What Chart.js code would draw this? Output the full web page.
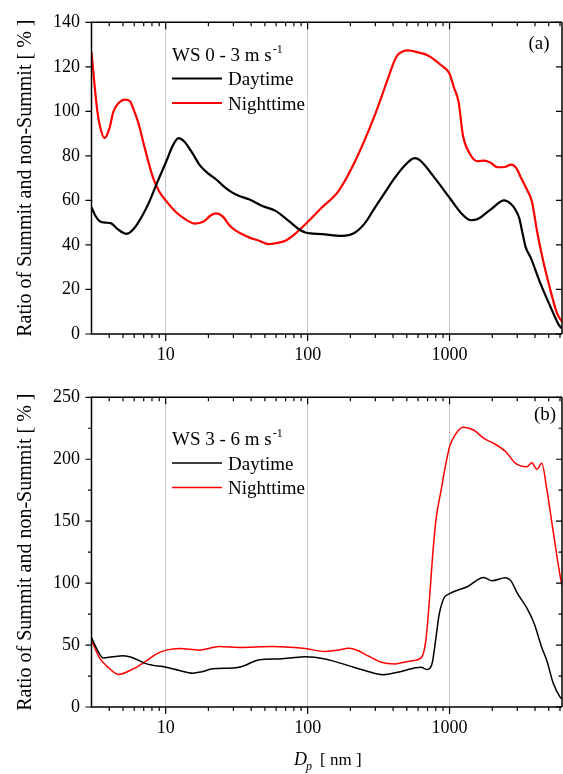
<!DOCTYPE html>
<html><head><meta charset="utf-8">
<script src="https://cdn.jsdelivr.net/npm/chart.js@4.4.0/dist/chart.umd.min.js"></script>
<style>
html,body{margin:0;padding:0;background:#fff;overflow:hidden;width:563px;height:774px;}
#wrapA{position:absolute;left:0;top:0;width:572px;height:375px;}
#wrapB{position:absolute;left:0;top:375px;width:572px;height:399px;}
canvas{display:block;}
</style></head><body>
<div id="wrapA"><canvas id="cA" width="572" height="375"></canvas></div>
<div id="wrapB"><canvas id="cB" width="572" height="399"></canvas></div>
<script>
// ---------- DATA ----------
const xTickLabels = [10, 100, 1000];
const yTitle = 'Ratio of Summit and non-Summit [ % ]';
const seriesNames = ['Daytime', 'Nighttime'];

// Panel (a): WS 0 - 3 m s-1
const aDayD = [3,3.2,3.45,3.8,4.1,4.6,5.3,6.0,6.93,7.7,8.6,10.1,11.2,12.3,13.5,15.5,17.3,20,22.6,26,29.5,33,38.6,48,59.4,73.6,85,96.4,126,174,216,255,298,350,411,480,569,620,785,1000,1200,1416,1577,1955,2425,2700,2900,3100,3250,3438,3720,4375,5143,5900,6200];
const aDayR = [57,53,50.5,50,49.8,47,45,47.5,53.8,59.7,67.2,77.6,84.5,88,86.5,81,76,72,69.5,66,63.5,62,60.5,57.5,55.3,50.8,47.5,45.6,44.9,44.1,45.6,50,56.8,63.5,70.1,75.5,79,78,70.1,61.2,54.5,51.1,51.6,56,60,58.5,56,52,46,39,34.5,22.6,12.2,4,2.5];
const aNightD = [3,3.15,3.3,3.45,3.7,4.0,4.28,4.7,5.17,5.6,5.9,6.4,6.93,7.5,8.15,9,10.1,11.5,13.2,16,18.5,20.5,22.6,25.5,28,31.2,38.6,45,53.3,60,69.8,80,96.4,126,165,216,298,368,411,434,510,600,705,873,1000,1070,1160,1240,1380,1577,1754,1950,2178,2450,2718,2950,3192,3500,3796,4170,4617,5143,5727,6200];
const aNightR = [126.6,112,100,93,88,92,99.9,104,105.3,104.5,101.3,95,86.5,78,70.1,64,59.7,55.5,52.3,49.6,50.5,53,54.2,52.5,49,46.4,43.4,42,40.4,40.8,41.9,44.5,49.3,56.8,64.2,77.6,98.4,114.7,123,125.5,127.4,126.5,125.1,120.7,116.9,111,104,89.5,81.3,77.6,77.9,76.9,74.9,75,76.1,74.6,70.1,65,59.7,44.9,31.5,19.6,9.2,5.5];

// Panel (b): WS 3 - 6 m s-1
const bDayD = [3,3.3,3.64,4.2,5.02,5.8,7.33,10.1,12.5,15.5,18,21.4,31.2,36,43,50,62.7,75,96,133,194,253,339,432,580,630,690,730,757,800,840,865,914,1000,1332,1741,1993,2470,2700,3000,3500,3930,4466,4850,5387,6000,6200];
const bDayR = [56,46,39.6,40.5,41.4,40,34.8,32.1,29.5,27.3,28.5,30.8,31.6,33.5,37.4,38.5,38.8,39.5,40.6,38.8,33.4,29.5,26,28.1,31.6,32,30.3,31.5,36.1,55,73,79.9,88,91.5,97.1,104.6,101.9,104.3,102,92,80,68,48,37.4,18.9,8.2,6.5];
const bNightD = [3,3.4,3.85,4.65,5.9,7.33,8.5,10.1,12.5,17.3,23.9,32.9,56,75,96,133,165,194,216,270,331,411,520,631,680,720,757,800,824,865,930,1000,1100,1240,1496,1757,2064,2490,2924,3506,3800,4121,4466,4850,5387,6000,6200];
const bNightR = [53.9,40,33,26.3,30.8,37.4,42.5,45.9,47.2,45.9,48.8,48.0,48.8,48.3,47.2,44.8,46,47.5,46.4,41,36.1,34.8,37,39.6,53.3,85,119.7,150,160,172.8,193,210,220,225.9,223.2,216.6,212.6,206,196.7,194,197.2,191.9,196.7,175.4,140.9,106.4,98];

// ---------- helpers ----------
const FONT = "'Liberation Serif', 'Times New Roman', serif";
Chart.defaults.font.family = FONT;
Chart.defaults.color = '#000';
const zip = (d, r) => d.map((v, i) => ({x: v, y: r[i]}));
const isDecade = v => { if (!v) return false; const l = Math.log10(v); return Math.abs(l - Math.round(l)) < 1e-9; };

const framePlugin = {
  id: 'frameDeco',
  afterDraw(chart, args, o) {
    const {ctx, chartArea: a, scales: {x, y}} = chart;
    ctx.save();
    ctx.strokeStyle = '#000';
    ctx.lineWidth = 1.5;
    ctx.beginPath();
    ctx.moveTo(a.left, a.top); ctx.lineTo(a.right, a.top);
    ctx.moveTo(a.left, a.bottom); ctx.lineTo(a.right, a.bottom);
    ctx.moveTo(a.left, a.top - 0.75); ctx.lineTo(a.left, a.bottom + 0.75);
    ctx.moveTo(a.right, a.top); ctx.lineTo(a.right, a.bottom);
    ctx.stroke();
    ctx.lineWidth = 1.2;
    ctx.beginPath();
    x.ticks.forEach(t => {
      const v = t.value;
      const e = Math.floor(Math.log10(v) + 1e-9);
      const s = v / Math.pow(10, e);
      if (Math.abs(s - Math.round(s)) > 1e-6) return;
      const px = x.getPixelForValue(v);
      if (px <= a.left + 1 || px >= a.right - 1) return;
      const L = isDecade(v) ? 7 : 4;
      ctx.moveTo(px, a.bottom); ctx.lineTo(px, a.bottom + L);
      ctx.moveTo(px, a.top); ctx.lineTo(px, a.top + L);
    });
    y.ticks.forEach(t => {
      const v = t.value;
      const py = y.getPixelForValue(v);
      const L = (v % o.major === 0) ? 6 : 3.5;
      ctx.moveTo(a.left, py); ctx.lineTo(a.left - L, py);
      ctx.moveTo(a.right, py); ctx.lineTo(a.right - L, py);
    });
    ctx.stroke();

    // legend
    const lg = o.legend;
    ctx.fillStyle = '#000';
    ctx.textAlign = 'left';
    ctx.textBaseline = 'alphabetic';
    ctx.font = '19px ' + FONT;
    ctx.fillText(lg.title, lg.x, lg.titleY);
    const w = ctx.measureText(lg.title).width;
    ctx.font = '12px ' + FONT;
    ctx.fillText('-1', lg.x + w + 1, lg.titleY - 8);
    ctx.font = '19px ' + FONT;
    chart.data.datasets.forEach((ds, i) => {
      const yy = lg.rowY[i];
      ctx.strokeStyle = ds.borderColor;
      ctx.lineWidth = ds.borderWidth;
      ctx.beginPath();
      ctx.moveTo(lg.x, yy - 6.5); ctx.lineTo(lg.x + 50, yy - 6.5);
      ctx.stroke();
      ctx.fillText(ds.label, lg.x + 56, yy);
    });
    // panel label
    ctx.textAlign = 'center';
    ctx.fillText(o.panel.text, o.panel.x, o.panel.y);

    // x-axis title
    if (o.xTitle) {
      const t = o.xTitle;
      ctx.textAlign = 'left';
      ctx.font = 'italic 18px ' + FONT;
      ctx.fillText('D', t.x, t.y);
      const wd = ctx.measureText('D').width;
      ctx.font = 'italic 12px ' + FONT;
      ctx.fillText('p', t.x + wd - 1, t.y + 5);
      ctx.font = '17px ' + FONT;
      ctx.fillText('[ nm ]', t.x + 26, t.y);
    }
    ctx.restore();
  }
};

function makePanel(canvasId, cfg) {
  return new Chart(document.getElementById(canvasId), {
    type: 'line',
    data: {
      datasets: [
        {label: seriesNames[0], data: zip(cfg.dayD, cfg.dayR), borderColor: '#000000', borderWidth: cfg.lw},
        {label: seriesNames[1], data: zip(cfg.nightD, cfg.nightR), borderColor: '#ff0000', borderWidth: cfg.lw}
      ]
    },
    options: {
      responsive: false,
      animation: false,
      devicePixelRatio: 1,
      parsing: false,
      elements: {point: {radius: 0}, line: {cubicInterpolationMode: 'monotone', fill: false}},
      layout: {padding: {left: 0, right: 7, top: cfg.padTop, bottom: 0}},
      plugins: {
        legend: {display: false},
        tooltip: {enabled: false},
        frameDeco: {major: cfg.yMajor, legend: cfg.legend, panel: cfg.panel, xTitle: cfg.xTitle}
      },
      scales: {
        x: {
          type: 'logarithmic', min: 3, max: 6200,
          afterFit: s => { s.height = cfg.xH; },
          border: {display: false},
          grid: {drawTicks: false, lineWidth: 1,
                 color: c => (c.tick && isDecade(c.tick.value)) ? '#c8c8c8' : 'rgba(0,0,0,0)'},
          ticks: {autoSkip: false, maxRotation: 0, minRotation: 0, padding: 10, font: {size: 18},
                  callback: v => xTickLabels.some(t => Math.abs(t - v) < 1e-6) ? String(Math.round(v)) : ''}
        },
        y: {
          min: 0, max: cfg.yMax,
          afterFit: s => { s.width = 91.5; },
          border: {display: false},
          grid: {display: false, drawTicks: false},
          ticks: {stepSize: cfg.yMinor, padding: 11.5, font: {size: 18},
                  callback: v => (v % cfg.yMajor === 0) ? String(v) : ''},
          title: {display: true, text: yTitle, font: {size: 20, lineHeight: 1}, padding: {top: 15.5, bottom: 0}}
        }
      }
    },
    plugins: [framePlugin]
  });
}

makePanel('cA', {
  dayD: aDayD, dayR: aDayR, nightD: aNightD, nightR: aNightR,
  lw: 2.2, padTop: 20, xH: 41, yMax: 140, yMinor: 10, yMajor: 20,
  legend: {x: 172, title: 'WS 0 - 3 m s', titleY: 61, rowY: [85, 109.5]},
  panel: {text: '(a)', x: 539, y: 48.5}
});
makePanel('cB', {
  dayD: bDayD, dayR: bDayR, nightD: bNightD, nightR: bNightR,
  lw: 1.5, padTop: 18, xH: 67, yMax: 250, yMinor: 25, yMajor: 50,
  legend: {x: 172, title: 'WS 3 - 6 m s', titleY: 444.5 - 375, rowY: [469.5 - 375, 494 - 375]},
  panel: {text: '(b)', x: 545, y: 420 - 375},
  xTitle: {x: 294, y: 765 - 375}
});
</script>
</body></html>
